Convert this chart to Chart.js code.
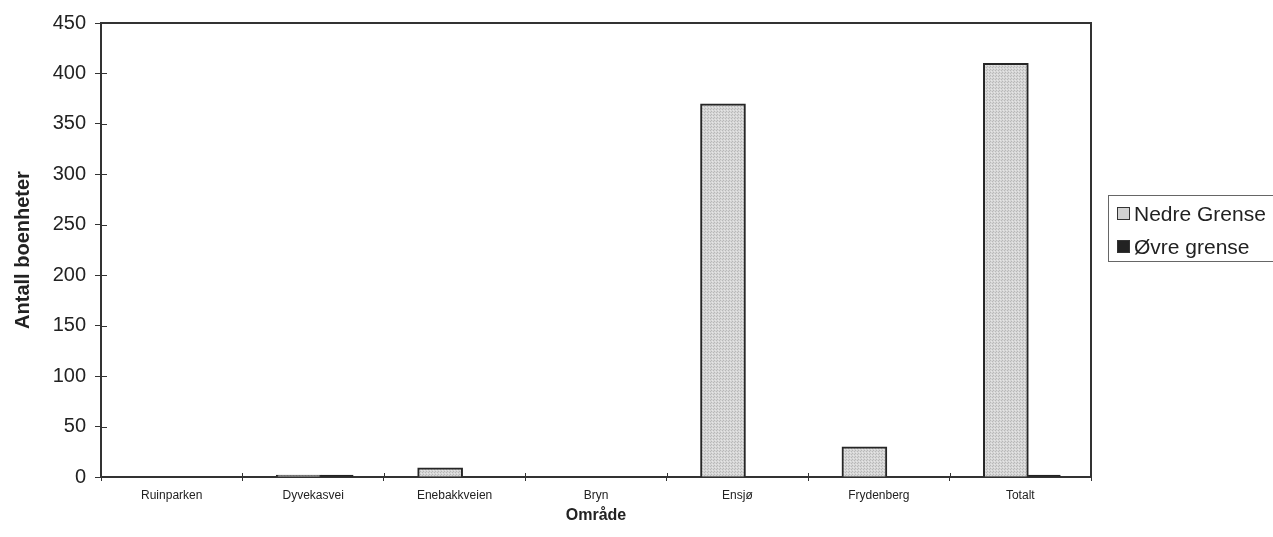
<!DOCTYPE html>
<html lang="no">
<head>
<meta charset="utf-8">
<title>Antall boenheter per område</title>
<script src="https://cdn.jsdelivr.net/npm/chart.js@4"></script>
<style>
    html, body { margin: 0; padding: 0; background: #fff; }
    #wrap { position: relative; width: 1273px; height: 537px; }
    #legend {
        position: absolute; left: 1108px; top: 195px; width: 165px; height: 67px;
        border: 1.5px solid #666; border-right: none; box-sizing: border-box;
        font-family: 'Liberation Sans', Arial, sans-serif; font-size: 21px; color: #222;
        padding: 1px 0 0 8px;
    }
    .item { display: flex; align-items: center; height: 33px; white-space: nowrap; }
    .sw { width: 13px; height: 13px; border: 1.5px solid #333; margin-right: 4px; box-sizing: border-box; flex: none; }
</style>
</head>
<body>
<div id="wrap">
    <canvas id="chart" width="1273" height="537"></canvas>
    <div id="legend">
        <div class="item"><span class="sw" style="background:#d2d2d2"></span>Nedre Grense</div>
        <div class="item"><span class="sw" style="background:#222"></span>Øvre grense</div>
    </div>
</div>
<script>
// Data
const omrader = ['Ruinparken', 'Dyvekasvei', 'Enebakkveien', 'Bryn', 'Ensjø', 'Frydenberg', 'Totalt'];
const nedreGrense = [0, 2, 9, 0, 370, 30, 410];
const ovreGrense = [0, 2, 0, 0, 0, 0, 2];
const yTicks = [0, 50, 100, 150, 200, 250, 300, 350, 400, 450];

const fontFamily = "'Liberation Sans', Arial, sans-serif";

// stolpegruppene står litt til høyre for midten av hver kategori
const gruppeForskyvning = 0.057;
const punkter = verdier => verdier.map((v, i) => ({ x: i + gruppeForskyvning, y: v }));

// prikkete grå fyll for stolpene
function lagMonster() {
    const c = document.createElement('canvas');
    c.width = 3; c.height = 3;
    const g = c.getContext('2d');
    g.fillStyle = '#d6d6d6';
    g.fillRect(0, 0, 3, 3);
    g.fillStyle = '#b8b8b8';
    g.fillRect(0, 0, 1, 1);
    g.fillRect(2, 1, 1, 1);
    g.fillStyle = '#e6e6e6';
    g.fillRect(1, 2, 1, 1);
    return document.getElementById('chart').getContext('2d').createPattern(c, 'repeat');
}

// ramme rundt plotteområdet + merker som krysser aksene
const rammePlugin = {
    id: 'ramme',
    afterDraw(chart) {
        const { ctx, chartArea: a, scales } = chart;
        ctx.save();
        ctx.strokeStyle = '#333';
        ctx.lineWidth = 2;
        ctx.beginPath();
        ctx.moveTo(a.left, a.top);
        ctx.lineTo(a.right, a.top);
        ctx.lineTo(a.right, a.bottom);
        ctx.stroke();

        ctx.lineWidth = 1;
        ctx.beginPath();
        scales.y.ticks.forEach(t => {
            const py = Math.round(scales.y.getPixelForValue(t.value)) + 0.5;
            ctx.moveTo(a.left, py);
            ctx.lineTo(a.left + 6, py);
        });
        const bredde = (a.right - a.left) / omrader.length;
        for (let i = 1; i < omrader.length; i++) {
            const px = Math.round(a.left + i * bredde) + 0.5;
            ctx.moveTo(px, a.bottom);
            ctx.lineTo(px, a.bottom - 4);
        }
        ctx.stroke();
        ctx.restore();
    }
};

const ctx = document.getElementById('chart').getContext('2d');
new Chart(ctx, {
    type: 'bar',
    data: {
        labels: omrader,
        datasets: [
            {
                label: 'Nedre Grense',
                data: punkter(nedreGrense),
                xAxisID: 'xb',
                backgroundColor: lagMonster(),
                borderColor: '#262626',
                borderWidth: 2,
                borderSkipped: 'bottom',
                barThickness: 45
            },
            {
                label: 'Øvre grense',
                data: punkter(ovreGrense),
                xAxisID: 'xb',
                backgroundColor: '#222',
                borderColor: '#222',
                borderWidth: 1,
                barThickness: 32
            }
        ]
    },
    options: {
        responsive: false,
        animation: false,
        layout: { padding: { top: 23, right: 182, left: 0, bottom: 0 } },
        plugins: {
            legend: { display: false },
            tooltip: { enabled: false }
        },
        scales: {
            x: {
                type: 'category',
                offset: true,
                grid: { display: true, offset: true, drawOnChartArea: false, tickLength: 4, color: '#333', lineWidth: 1 },
                border: { display: true, color: '#333', width: 2 },
                ticks: {
                    font: { family: fontFamily, size: 12 },
                    color: '#222',
                    maxRotation: 0,
                    padding: 7
                },
                title: {
                    display: true, text: 'Område',
                    font: { family: fontFamily, size: 16, weight: 'bold' },
                    color: '#222',
                    padding: { top: 0, bottom: 12 }
                },
                afterFit(scale) { scale.height = 60; }
            },
            xb: {
                type: 'linear',
                display: false,
                min: -0.5,
                max: omrader.length - 0.5,
                offset: false
            },
            y: {
                min: 0,
                max: 450,
                afterBuildTicks(scale) { scale.ticks = yTicks.map(v => ({ value: v })); },
                grid: { display: true, drawOnChartArea: false, tickLength: 6, color: '#333', lineWidth: 1 },
                border: { display: true, color: '#333', width: 2 },
                ticks: {
                    font: { family: fontFamily, size: 20 },
                    color: '#222',
                    padding: 9
                },
                title: {
                    display: true, text: 'Antall boenheter',
                    font: { family: fontFamily, size: 20, weight: 'bold' },
                    color: '#222',
                    padding: { top: 11, bottom: 0 }
                },
                afterFit(scale) { scale.width = 101; }
            }
        }
    },
    plugins: [rammePlugin]
});
</script>
</body>
</html>
